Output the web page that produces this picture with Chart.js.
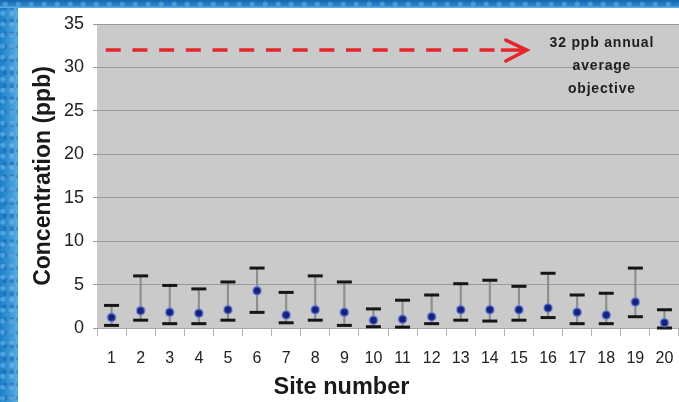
<!DOCTYPE html>
<html>
<head>
<meta charset="utf-8">
<title>Concentration by site</title>
<script src="https://cdn.jsdelivr.net/npm/chart.js@4/dist/chart.umd.min.js"></script>
<style>
  html, body { margin: 0; padding: 0; }
  body { width: 679px; height: 402px; overflow: hidden; position: relative; background: #ffffff; }
  .band-left {
    position: absolute; left: 0; top: 0; width: 18px; height: 402px;
    background:
      radial-gradient(circle at 30% 20%, rgba(120,190,240,0.5) 0 2px, transparent 3px) 0 0 / 9px 11px,
      radial-gradient(circle at 70% 60%, rgba(20,90,170,0.45) 0 2px, transparent 3px) 0 0 / 7px 13px,
      linear-gradient(90deg, #1e7fc6, #3d9ad8 60%, #5aaee2);
  }
  .band-top {
    position: absolute; left: 0; top: 0; width: 679px; height: 8px;
    background:
      radial-gradient(circle at 40% 50%, rgba(120,190,240,0.45) 0 2px, transparent 3px) 0 0 / 13px 8px,
      linear-gradient(180deg, #1565b0, #2b86cc 70%, #6ab4e4);
  }
  #wrap { position: absolute; left: 0; top: 0; width: 679px; height: 402px; }
</style>
</head>
<body>
<div class="band-left"></div>
<div class="band-top"></div>
<div id="wrap"><canvas id="chart" width="679" height="402"></canvas></div>
<script>
// Site labels and concentration statistics (ppb)
const sites = ['1','2','3','4','5','6','7','8','9','10','11','12','13','14','15','16','17','18','19','20'];
const meanConc = [1.2, 2.0, 1.8, 1.7, 2.1, 4.3, 1.5, 2.1, 1.8, 0.9, 1.0, 1.3, 2.1, 2.1, 2.1, 2.3, 1.8, 1.5, 3.0, 0.6];
const maxConc  = [2.6, 6.0, 4.9, 4.5, 5.3, 6.9, 4.1, 6.0, 5.3, 2.2, 3.2, 3.8, 5.1, 5.5, 4.8, 6.3, 3.8, 4.0, 6.9, 2.1];
const minConc  = [0.3, 0.9, 0.5, 0.5, 0.9, 1.8, 0.6, 0.9, 0.3, 0.15, 0.1, 0.5, 0.9, 0.8, 0.9, 1.2, 0.5, 0.5, 1.3, 0.0];

// Annual average objective
const objectiveValue = 32;
const objectiveLabel = ['32 ppb annual', 'average', 'objective'];
const xAxisTitle = 'Site number';

const FONT = '"Liberation Sans", Arial, Helvetica, sans-serif';

// Grey plot panel behind everything
const plotPanel = {
  id: 'plotPanel',
  beforeDraw(chart) {
    const { ctx, chartArea: a } = chart;
    ctx.save();
    ctx.fillStyle = '#cacaca';
    ctx.fillRect(a.left, a.top, a.right - a.left, a.bottom - a.top);
    ctx.restore();
  }
};

// Dashed arrow at the objective level with its caption, plus the x axis title
const objectiveArrow = {
  id: 'objectiveArrow',
  afterDatasetsDraw(chart) {
    const { ctx, scales: { x, y }, chartArea: a } = chart;
    const yy = y.getPixelForValue(objectiveValue);
    const x0 = x.getPixelForValue(-0.2);
    const tip = x.getPixelForValue(14.27);
    ctx.save();
    ctx.strokeStyle = '#e4262c';
    ctx.lineWidth = 3.5;
    ctx.setLineDash([15, 11.7]);
    ctx.beginPath();
    ctx.moveTo(x0, yy);
    ctx.lineTo(tip - 26, yy);
    ctx.stroke();
    ctx.setLineDash([]);
    ctx.beginPath();
    ctx.moveTo(tip - 26, yy);
    ctx.lineTo(tip, yy);
    ctx.stroke();
    ctx.lineJoin = 'miter';
    ctx.lineCap = 'round';
    ctx.beginPath();
    ctx.moveTo(tip - 21, yy - 10);
    ctx.lineTo(tip, yy);
    ctx.lineTo(tip - 21, yy + 11);
    ctx.stroke();

    ctx.fillStyle = '#1e1e1e';
    ctx.font = 'bold 14px ' + FONT;
    ctx.letterSpacing = '0.8px';
    ctx.textAlign = 'center';
    ctx.textBaseline = 'middle';
    const cx = x.getPixelForValue(16.85);
    objectiveLabel.forEach((t, i) => ctx.fillText(t, cx, a.top + 19 + i * 23));
    ctx.restore();

    ctx.save();
    ctx.fillStyle = '#1a1a1a';
    ctx.font = 'bold 23.5px ' + FONT;
    ctx.textAlign = 'center';
    ctx.textBaseline = 'middle';
    ctx.fillText(xAxisTitle, x.getPixelForValue(7.9), chart.height - 14);
    ctx.restore();
  }
};

new Chart(document.getElementById('chart'), {
  type: 'bar',
  data: {
    labels: sites,
    datasets: [
      {
        type: 'line', label: 'Mean', data: meanConc, showLine: false,
        pointRadius: 4, pointBackgroundColor: '#16217a',
        pointBorderColor: 'rgba(95,125,225,0.55)', pointBorderWidth: 2,
        order: 0, clip: false
      },
      {
        type: 'line', label: 'Maximum', data: maxConc, showLine: false,
        pointStyle: 'line', pointRadius: 7.5, pointBorderWidth: 3,
        pointBorderColor: '#161616', order: 1, clip: false
      },
      {
        type: 'line', label: 'Minimum', data: minConc, showLine: false,
        pointStyle: 'line', pointRadius: 7.5, pointBorderWidth: 3,
        pointBorderColor: '#161616', order: 2, clip: false
      },
      {
        type: 'bar', label: 'Range', data: minConc.map((v, i) => [v, maxConc[i]]),
        backgroundColor: '#8e8e8e', barThickness: 1.5, order: 3
      }
    ]
  },
  options: {
    responsive: false,
    animation: false,
    layout: { autoPadding: false, padding: { left: 18, top: 24, right: 0, bottom: 0 } },
    plugins: { legend: { display: false }, tooltip: { enabled: false } },
    scales: {
      x: {
        offset: true,
        grid: { display: true, drawOnChartArea: false, drawTicks: true, tickLength: 8, color: '#b4b4b4', offset: true },
        border: { display: true, color: '#a6a6a6' },
        ticks: { font: { family: FONT, size: 16 }, color: '#222', padding: 13, maxRotation: 0, autoSkip: false },
        title: { display: false },
        afterFit(s) { s.height = 74; s.paddingLeft = 0; s.paddingRight = 0; }
      },
      y: {
        min: 0, max: 35,
        grid: { color: '#9a9a9a', tickLength: 4, drawTicks: true },
        border: { display: false },
        ticks: { stepSize: 5, font: { family: FONT, size: 18 }, color: '#222', padding: 9 },
        title: { display: true, text: 'Concentration (ppb)', color: '#1a1a1a',
                 font: { family: FONT, size: 23, weight: 'bold' }, padding: { top: 12, bottom: 0 } },
        afterFit(s) { s.width = 79; }
      }
    }
  },
  plugins: [plotPanel, objectiveArrow]
});
</script>
</body>
</html>
